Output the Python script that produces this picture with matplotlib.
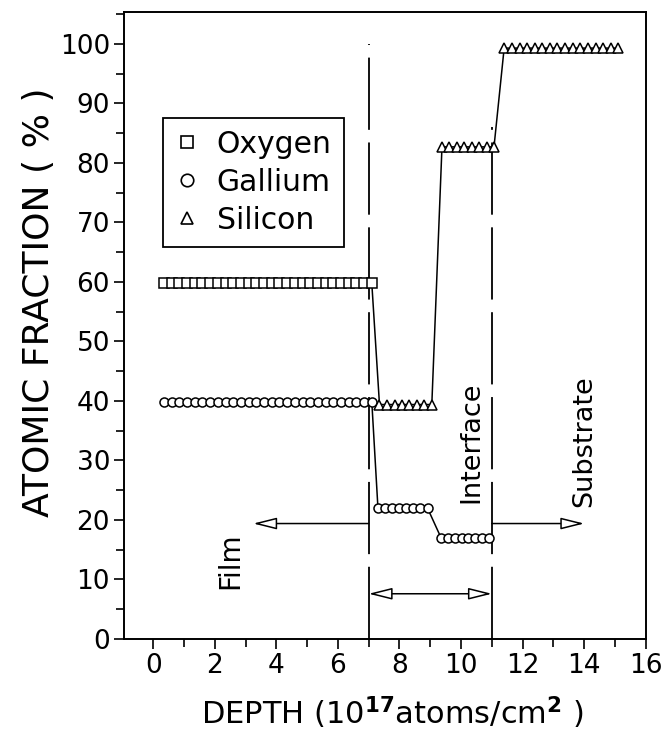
import matplotlib
matplotlib.use("Agg")
import matplotlib.pyplot as plt
from matplotlib.lines import Line2D
from matplotlib.ticker import MultipleLocator

plt.rcParams['font.family'] = ['DejaVu Sans']

# depth values (10^17 atoms/cm^2) and atomic fractions (%)
film_x = [0.35, 0.6, 0.85, 1.1, 1.35, 1.6, 1.85, 2.1, 2.35, 2.6, 2.85, 3.1, 3.35, 3.6,
          3.85, 4.1, 4.35, 4.6, 4.85, 5.1, 5.35, 5.6, 5.85, 6.1, 6.35, 6.6, 6.85, 7.1]
oxygen_film = [59.8] * 28
gallium_film = [39.9] * 28

gallium_x2 = [7.3, 7.53, 7.76, 7.99, 8.22, 8.45, 8.68, 8.91]
gallium_y2 = [22.0] * 8
gallium_x3 = [9.35, 9.57, 9.8, 10.02, 10.24, 10.46, 10.69, 10.91]
gallium_y3 = [17.0] * 8

silicon_x1 = [7.35, 7.59, 7.84, 8.08, 8.32, 8.56, 8.81, 9.05]
silicon_y1 = [39.4] * 8
silicon_x2 = [9.38, 9.62, 9.86, 10.1, 10.35, 10.59, 10.83, 11.07]
silicon_y2 = [82.7] * 8
silicon_x3 = [11.4, 11.65, 11.9, 12.14, 12.39, 12.64, 12.88, 13.13, 13.38, 13.63,
              13.87, 14.12, 14.37, 14.61, 14.86, 15.1]
silicon_y3 = [99.3] * 16

film_edge = 7
interface_edge = 11

fig = plt.figure(figsize=(6.63, 7.37), dpi=100)
ax = fig.add_axes([0.187, 0.133, 0.787, 0.851])

dash = (0, (40, 7))
ax.plot([film_edge, film_edge], [0, 100], color='black', lw=1.3, linestyle=dash, zorder=1)
ax.plot([interface_edge, interface_edge], [0, 86], color='black', lw=1.3, linestyle=dash, zorder=1)

mk = dict(color='black', lw=1.1, mfc='white', mec='black', mew=1.1, zorder=3)

# oxygen: film squares, then drops onto the silicon interface level
ax.plot(film_x + [silicon_x1[0]], oxygen_film + [silicon_y1[0]], marker='s', ms=6.5,
        markevery=slice(0, 28), **mk)
ax.plot(film_x + gallium_x2 + gallium_x3, gallium_film + gallium_y2 + gallium_y3,
        marker='o', ms=6.5, **mk)
ax.plot(silicon_x1 + silicon_x2 + silicon_x3, silicon_y1 + silicon_y2 + silicon_y3,
        marker='^', ms=6.5, **mk)

arrow = dict(arrowstyle='-|>,head_length=0.6,head_width=0.15', mutation_scale=24,
             fc='white', ec='black', lw=1.1, shrinkA=0, shrinkB=0)
ax.annotate('', xy=(3.25, 19.4), xytext=(film_edge, 19.4), arrowprops=arrow)
ax.annotate('', xy=(14.0, 19.4), xytext=(interface_edge, 19.4), arrowprops=arrow)
ax.annotate('', xy=(interface_edge, 7.6), xytext=(film_edge, 7.6),
            arrowprops=dict(arrow, arrowstyle='<|-|>,head_length=0.6,head_width=0.15'))

ax.text(2.5, 13.2, 'Film', rotation=90, ha='center', va='center', fontsize=20)
ax.text(10.35, 33.0, 'Interface', rotation=90, ha='center', va='center', fontsize=19.5)
ax.text(14.0, 33.3, 'Substrate', rotation=90, ha='center', va='center', fontsize=19.5)

handles = [Line2D([], [], ls='none', marker='s', ms=9, mfc='white', mec='black', mew=1.2),
           Line2D([], [], ls='none', marker='o', ms=9, mfc='white', mec='black', mew=1.2),
           Line2D([], [], ls='none', marker='^', ms=9, mfc='white', mec='black', mew=1.2)]
leg = ax.legend(handles, ['Oxygen', 'Gallium', 'Silicon'], loc='upper left',
                bbox_to_anchor=(0.075, 0.831), borderaxespad=0, fontsize=21.5,
                handlelength=0.8, handletextpad=0.6, labelspacing=0.3,
                fancybox=False, framealpha=1, edgecolor='black', borderpad=0.4)
leg.get_frame().set_linewidth(1.3)

ax.set_xlim(-0.95, 16)
ax.set_ylim(0, 105.4)
ax.xaxis.set_major_locator(MultipleLocator(2))
ax.xaxis.set_minor_locator(MultipleLocator(1))
ax.yaxis.set_major_locator(MultipleLocator(10))
ax.yaxis.set_minor_locator(MultipleLocator(5))
ax.tick_params(which='both', direction='out', width=1.2, labelsize=19)
ax.tick_params(which='major', length=7, pad=3)
ax.tick_params(which='minor', length=6)
for s in ax.spines.values():
    s.set_linewidth(1.4)

ax.set_xlabel(r'DEPTH (10$^{\mathbf{17}}$atoms/cm$^{\mathbf{2}}$ )', fontsize=22)
ax.set_ylabel('ATOMIC FRACTION ( % )', fontsize=26)
ax.xaxis.set_label_coords(0.515, -0.088)
ax.yaxis.set_label_coords(-0.13, 0.537)

fig.savefig('out.png', dpi=100)
